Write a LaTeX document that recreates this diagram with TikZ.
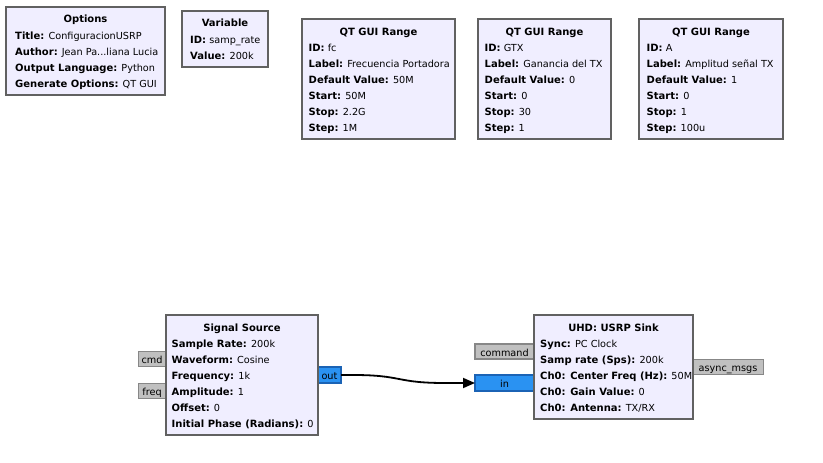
\documentclass[tikz,border=0pt]{standalone}
\usepackage{fontspec}
\setmainfont{DejaVu Sans}
\usetikzlibrary{arrows.meta}
\definecolor{blockfill}{HTML}{F0EEFF}
\definecolor{blockdraw}{HTML}{616161}
\definecolor{streamfill}{HTML}{2A92F2}
\definecolor{streamdraw}{HTML}{1B63B5}
\definecolor{msgfill}{HTML}{C0C0C0}
\definecolor{msgdraw}{HTML}{878787}
\newcommand{\bft}[1]{{\fontsize{10.0}{16}\selectfont\bfseries #1}}
\tikzset{
  block/.style={draw=blockdraw, line width=2pt, fill=blockfill, inner sep=0pt, outer sep=0pt, anchor=north west},
  ttl/.style={anchor=base, inner sep=0pt},
  lbl/.style={anchor=base west, inner sep=0pt},
  sport/.style={draw=streamdraw, line width=1.3pt, fill=streamfill, inner sep=0pt, outer sep=0pt, anchor=north west},
  mport/.style={draw=msgdraw, line width=1.3pt, fill=msgfill, inner sep=0pt, outer sep=0pt, anchor=north west},
  ptext/.style={inner sep=0pt, anchor=base},
  conn/.style={line width=1.8pt, draw=black, -{Triangle[length=12pt,width=10pt]}}
}
\newcommand{\kv}[2]{\bft{#1:} #2}
\begin{document}
\begin{tikzpicture}[x=1pt, y=-1pt, font=\fontsize{9.7}{16}\selectfont]
\fill[white] (0,0) rectangle (823,463);
\useasboundingbox (0,0) rectangle (823,463);

% Options
\node[block, minimum width=159pt, minimum height=88pt] (opt) at (6,7) {};
\node[ttl] (optT) at (85.5,23) {\bft{Options}};
\node[lbl] (opt1) at (15,39) {\kv{Title}{ConfiguracionUSRP}};
\node[lbl] (opt2) at (15,55) {\kv{Author}{Jean Pa...liana Lucia}};
\node[lbl] (opt3) at (15,71) {\kv{Output Language}{Python}};
\node[lbl] (opt4) at (15,87) {\kv{Generate Options}{QT GUI}};

% Variable
\node[block, minimum width=86pt, minimum height=56pt] (var) at (182,11) {};
\node[ttl] (varT) at (225,27) {\bft{Variable}};
\node[lbl] (var1) at (190,43) {\kv{ID}{samp\_rate}};
\node[lbl] (var2) at (190,59) {\kv{Value}{200k}};

% QT GUI Range 1
\node[block, minimum width=153pt, minimum height=120pt] (qt1) at (302,19) {};
\node[ttl] (qt1T) at (378.5,35) {\bft{QT GUI Range}};
\node[lbl] (qt11) at (308.5,51) {\kv{ID}{fc}};
\node[lbl] (qt12) at (308.5,67) {\kv{Label}{Frecuencia Portadora}};
\node[lbl] (qt13) at (308.5,83) {\kv{Default Value}{50M}};
\node[lbl] (qt14) at (308.5,99) {\kv{Start}{50M}};
\node[lbl] (qt15) at (308.5,115) {\kv{Stop}{2.2G}};
\node[lbl] (qt16) at (308.5,131) {\kv{Step}{1M}};

% QT GUI Range 2
\node[block, minimum width=133pt, minimum height=120pt] (qt2) at (478,19) {};
\node[ttl] (qt2T) at (544.5,35) {\bft{QT GUI Range}};
\node[lbl] (qt21) at (484.5,51) {\kv{ID}{GTX}};
\node[lbl] (qt22) at (484.5,67) {\kv{Label}{Ganancia del TX}};
\node[lbl] (qt23) at (484.5,83) {\kv{Default Value}{0}};
\node[lbl] (qt24) at (484.5,99) {\kv{Start}{0}};
\node[lbl] (qt25) at (484.5,115) {\kv{Stop}{30}};
\node[lbl] (qt26) at (484.5,131) {\kv{Step}{1}};

% QT GUI Range 3
\node[block, minimum width=144pt, minimum height=120pt] (qt3) at (639,19) {};
\node[ttl] (qt3T) at (711,35) {\bft{QT GUI Range}};
\node[lbl] (qt31) at (646.5,51) {\kv{ID}{A}};
\node[lbl] (qt32) at (646.5,67) {\kv{Label}{Amplitud señal TX}};
\node[lbl] (qt33) at (646.5,83) {\kv{Default Value}{1}};
\node[lbl] (qt34) at (646.5,99) {\kv{Start}{0}};
\node[lbl] (qt35) at (646.5,115) {\kv{Stop}{1}};
\node[lbl] (qt36) at (646.5,131) {\kv{Step}{100u}};

% Signal Source ports (behind block)
\node[mport, minimum width=28pt, minimum height=15pt] (cmd) at (138.5,351.5) {};
\node[ptext] (cmdT) at (152,363) {cmd};
\node[mport, minimum width=28pt, minimum height=15pt] (freq) at (138.5,383.5) {};
\node[ptext] (freqT) at (152,395) {freq};
\node[sport, minimum width=23pt, minimum height=16pt] (out) at (318,367) {};
\node[ptext] (outT) at (329.5,379) {out};

% Signal Source
\node[block, minimum width=152pt, minimum height=120pt] (src) at (166,315) {};
\node[ttl] (srcT) at (242,331) {\bft{Signal Source}};
\node[lbl] (src1) at (171.5,347) {\kv{Sample Rate}{200k}};
\node[lbl] (src2) at (171.5,363) {\kv{Waveform}{Cosine}};
\node[lbl] (src3) at (171.5,379) {\kv{Frequency}{1k}};
\node[lbl] (src4) at (171.5,395) {\kv{Amplitude}{1}};
\node[lbl] (src5) at (171.5,411) {\kv{Offset}{0}};
\node[lbl] (src6) at (171.5,427) {\kv{Initial Phase (Radians)}{0}};

% USRP Sink ports
\node[mport, minimum width=60pt, minimum height=15pt] (command) at (475,344) {};
\node[ptext] (commandT) at (504.5,356) {command};
\node[sport, minimum width=60pt, minimum height=16pt] (in) at (475,375) {};
\node[ptext] (inT) at (504.5,387) {in};
\node[mport, minimum width=71pt, minimum height=15pt] (async) at (692.5,359.5) {};
\node[ptext] (asyncT) at (728,371) {async\_msgs};

% USRP Sink
\node[block, minimum width=159pt, minimum height=104pt] (snk) at (534,315) {};
\node[ttl] (snkT) at (613.5,331) {\bft{UHD: USRP Sink}};
\node[lbl] (snk1) at (540,347) {\kv{Sync}{PC Clock}};
\node[lbl] (snk2) at (540,363) {\kv{Samp rate (Sps)}{200k}};
\node[lbl] (snk3) at (540,379) {\kv{Ch0: Center Freq (Hz)}{50M}};
\node[lbl] (snk4) at (540,395) {\kv{Ch0: Gain Value}{0}};
\node[lbl] (snk5) at (540,411) {\kv{Ch0: Antenna}{TX/RX}};

% connection
\draw[conn] (out.east) -- ++(12,0) .. controls +(50,0) and +(-50,0) .. ([xshift=-30pt]in.west) -- (in.west);
\end{tikzpicture}
\end{document}
